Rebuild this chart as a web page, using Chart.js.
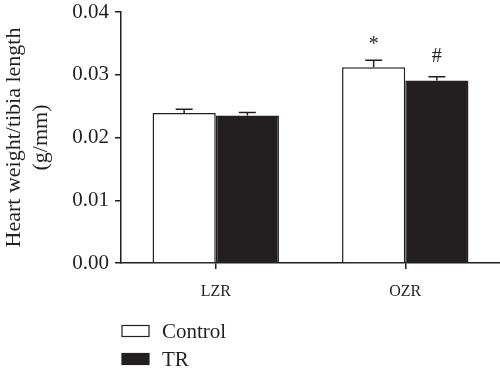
<!DOCTYPE html>
<html>
<head>
<meta charset="utf-8">
<script src="https://cdn.jsdelivr.net/npm/chart.js@4"></script>
<style>
  html, body { margin: 0; padding: 0; background: #fff; }
  #wrap { width: 500px; height: 376px; }
</style>
</head>
<body>
<div id="wrap"><canvas id="hwChart" width="500" height="376"></canvas></div>
<script>
const categories = ['LZR', 'OZR'];
const seriesNames = ['Control', 'TR'];
const controlValues = [0.0239, 0.0312];
const trValues = [0.0235, 0.0291];
const controlErr = [0.0006, 0.0011];
const trErr = [0.0005, 0.0006];
const controlSig = ['', '*'];
const trSig = ['', '#'];
const yTicks = [0, 0.01, 0.02, 0.03, 0.04];

const ink = '#231f20';
const serif = '"Liberation Serif", "DejaVu Serif", serif';

// error bars (upper only) + significance marks
const errorBars = {
    id: 'errorBars',
    afterDatasetsDraw(chart) {
        const c = chart.ctx;
        const y = chart.scales.y;
        chart.data.datasets.forEach((ds, i) => {
            const meta = chart.getDatasetMeta(i);
            meta.data.forEach((bar, j) => {
                const top = y.getPixelForValue(ds.data[j] + ds.err[j]);
                c.save();
                c.strokeStyle = ink;
                c.lineWidth = 1.5;
                c.beginPath();
                c.moveTo(bar.x, bar.y);
                c.lineTo(bar.x, top);
                c.moveTo(bar.x - 8.5, top);
                c.lineTo(bar.x + 8.5, top);
                c.stroke();
                if (ds.sig[j]) {
                    c.fillStyle = ink;
                    c.font = '20px ' + serif;
                    c.textAlign = 'center';
                    c.textBaseline = 'alphabetic';
                    const lift = ds.sig[j] === '*' ? 10 : 15;
                    c.fillText(ds.sig[j], bar.x, top - lift);
                }
                c.restore();
            });
        });
    }
};

// stacked legend under the plot
const stackedLegend = {
    id: 'stackedLegend',
    afterDraw(chart) {
        const c = chart.ctx;
        chart.data.datasets.forEach((ds, i) => {
            const rowY = 331 + i * 28;
            c.save();
            c.fillStyle = ds.backgroundColor;
            c.strokeStyle = ink;
            c.lineWidth = 1.2;
            c.fillRect(122, rowY - 5.5, 27, 11);
            c.strokeRect(122, rowY - 5.5, 27, 11);
            c.fillStyle = ink;
            c.font = '21px ' + serif;
            c.textAlign = 'left';
            c.textBaseline = 'middle';
            c.fillText(ds.label, 162, rowY + 1);
            c.restore();
        });
    }
};

new Chart(document.getElementById('hwChart'), {
    type: 'bar',
    data: {
        labels: categories,
        datasets: [
            {
                label: seriesNames[0],
                data: controlValues,
                err: controlErr,
                sig: controlSig,
                backgroundColor: '#ffffff',
                borderColor: ink,
                borderWidth: 1.5,
                borderSkipped: 'bottom'
            },
            {
                label: seriesNames[1],
                data: trValues,
                err: trErr,
                sig: trSig,
                backgroundColor: '#231f20',
                borderColor: ink,
                borderWidth: 1.5,
                borderSkipped: 'bottom'
            }
        ]
    },
    options: {
        responsive: false,
        animation: false,
        categoryPercentage: 0.667,
        barPercentage: 1.0,
        layout: { padding: { top: 12, right: 0, bottom: 0, left: 0 } },
        plugins: {
            legend: { display: false },
            tooltip: { enabled: false }
        },
        scales: {
            x: {
                offset: true,
                grid: {
                    offset: false,
                    drawOnChartArea: false,
                    drawTicks: true,
                    tickLength: 6,
                    color: ink,
                    lineWidth: 1.5
                },
                border: { color: ink, width: 1.5 },
                ticks: {
                    color: ink,
                    padding: 13,
                    font: { family: serif, size: 16 }
                },
                afterFit(scale) {
                    scale.height = 113;
                    scale.paddingLeft = 0;
                    scale.paddingRight = 0;
                }
            },
            y: {
                min: 0,
                max: 0.04,
                afterBuildTicks(scale) {
                    scale.ticks = yTicks.map(v => ({ value: v }));
                },
                grid: {
                    drawOnChartArea: false,
                    drawTicks: true,
                    tickLength: 6,
                    color: ink,
                    lineWidth: 1.5
                },
                border: { color: ink, width: 1.5 },
                ticks: {
                    color: ink,
                    padding: 6,
                    font: { family: serif, size: 21 },
                    callback: v => v.toFixed(2)
                },
                title: {
                    display: true,
                    text: ['Heart weight/tibia length', '(g/mm)'],
                    color: ink,
                    font: { family: serif, size: 22, lineHeight: 1.25 },
                    padding: { top: 0, bottom: 0 }
                },
                afterFit(scale) {
                    scale.width = 121;
                    scale.paddingTop = 0;
                    scale.paddingBottom = 0;
                }
            }
        }
    },
    plugins: [errorBars, stackedLegend]
});
</script>
</body>
</html>
